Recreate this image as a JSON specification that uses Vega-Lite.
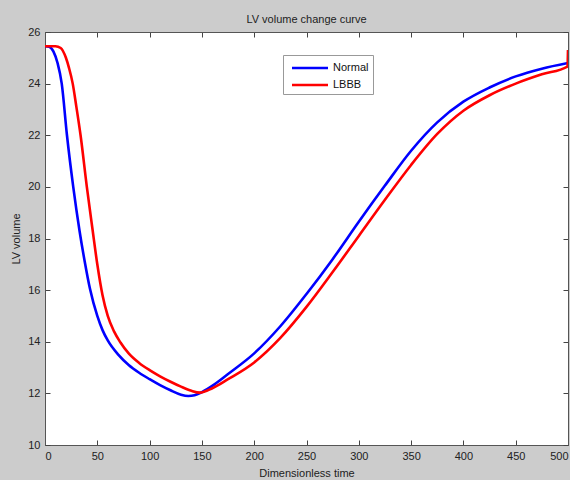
{
  "$schema": "https://vega.github.io/schema/vega-lite/v6.json",
  "width": 523,
  "height": 413,
  "autosize": {"type": "none"},
  "padding": {"left": 45, "top": 32, "right": 2, "bottom": 35},
  "background": "#cccccc",
  "title": {"text": "LV volume change curve", "fontSize": 11, "fontWeight": "normal", "font": "Liberation Sans", "color": "#222222", "offset": 1},
  "config": {
    "view": {"fill": "white", "stroke": "#555555", "strokeWidth": 1},
    "axis": {
      "labelFont": "Liberation Sans", "labelFontSize": 11, "labelColor": "#222222",
      "titleFont": "Liberation Sans", "titleFontSize": 11, "titleFontWeight": "normal", "titleColor": "#222222",
      "domainColor": "#555555", "tickColor": "#444444", "tickSize": -5, "grid": false
    }
  },
  "datasets": {
    "curves": [
      {"t": 0, "v": 25.45, "series": "Normal"},
      {"t": 4, "v": 25.43, "series": "Normal"},
      {"t": 8, "v": 25.25, "series": "Normal"},
      {"t": 12, "v": 24.8, "series": "Normal"},
      {"t": 16, "v": 24.0, "series": "Normal"},
      {"t": 21, "v": 22.0, "series": "Normal"},
      {"t": 27, "v": 20.0, "series": "Normal"},
      {"t": 33, "v": 18.3, "series": "Normal"},
      {"t": 38, "v": 17.1, "series": "Normal"},
      {"t": 43, "v": 16.05, "series": "Normal"},
      {"t": 50, "v": 15.0, "series": "Normal"},
      {"t": 55, "v": 14.45, "series": "Normal"},
      {"t": 60, "v": 14.05, "series": "Normal"},
      {"t": 70, "v": 13.5, "series": "Normal"},
      {"t": 80, "v": 13.1, "series": "Normal"},
      {"t": 90, "v": 12.8, "series": "Normal"},
      {"t": 100, "v": 12.55, "series": "Normal"},
      {"t": 110, "v": 12.32, "series": "Normal"},
      {"t": 120, "v": 12.12, "series": "Normal"},
      {"t": 130, "v": 11.95, "series": "Normal"},
      {"t": 137, "v": 11.9, "series": "Normal"},
      {"t": 143, "v": 11.93, "series": "Normal"},
      {"t": 150, "v": 12.05, "series": "Normal"},
      {"t": 162, "v": 12.35, "series": "Normal"},
      {"t": 175, "v": 12.75, "series": "Normal"},
      {"t": 200, "v": 13.55, "series": "Normal"},
      {"t": 225, "v": 14.6, "series": "Normal"},
      {"t": 250, "v": 15.85, "series": "Normal"},
      {"t": 275, "v": 17.2, "series": "Normal"},
      {"t": 300, "v": 18.65, "series": "Normal"},
      {"t": 325, "v": 20.05, "series": "Normal"},
      {"t": 350, "v": 21.4, "series": "Normal"},
      {"t": 375, "v": 22.5, "series": "Normal"},
      {"t": 400, "v": 23.3, "series": "Normal"},
      {"t": 425, "v": 23.85, "series": "Normal"},
      {"t": 450, "v": 24.28, "series": "Normal"},
      {"t": 475, "v": 24.58, "series": "Normal"},
      {"t": 500, "v": 24.8, "series": "Normal"},
      {"t": 0, "v": 25.45, "series": "LBBB"},
      {"t": 10, "v": 25.45, "series": "LBBB"},
      {"t": 15, "v": 25.38, "series": "LBBB"},
      {"t": 20, "v": 25.0, "series": "LBBB"},
      {"t": 23, "v": 24.6, "series": "LBBB"},
      {"t": 26.5, "v": 24.0, "series": "LBBB"},
      {"t": 30, "v": 23.1, "series": "LBBB"},
      {"t": 34, "v": 22.0, "series": "LBBB"},
      {"t": 40, "v": 20.0, "series": "LBBB"},
      {"t": 45.6, "v": 18.3, "series": "LBBB"},
      {"t": 50, "v": 17.0, "series": "LBBB"},
      {"t": 55, "v": 15.8, "series": "LBBB"},
      {"t": 60, "v": 15.0, "series": "LBBB"},
      {"t": 66, "v": 14.4, "series": "LBBB"},
      {"t": 72, "v": 13.98, "series": "LBBB"},
      {"t": 80, "v": 13.55, "series": "LBBB"},
      {"t": 90, "v": 13.18, "series": "LBBB"},
      {"t": 100, "v": 12.9, "series": "LBBB"},
      {"t": 110, "v": 12.66, "series": "LBBB"},
      {"t": 120, "v": 12.45, "series": "LBBB"},
      {"t": 130, "v": 12.26, "series": "LBBB"},
      {"t": 140, "v": 12.1, "series": "LBBB"},
      {"t": 148, "v": 12.03, "series": "LBBB"},
      {"t": 160, "v": 12.2, "series": "LBBB"},
      {"t": 175, "v": 12.55, "series": "LBBB"},
      {"t": 200, "v": 13.2, "series": "LBBB"},
      {"t": 225, "v": 14.15, "series": "LBBB"},
      {"t": 250, "v": 15.35, "series": "LBBB"},
      {"t": 275, "v": 16.7, "series": "LBBB"},
      {"t": 300, "v": 18.1, "series": "LBBB"},
      {"t": 325, "v": 19.5, "series": "LBBB"},
      {"t": 350, "v": 20.85, "series": "LBBB"},
      {"t": 375, "v": 22.05, "series": "LBBB"},
      {"t": 400, "v": 22.95, "series": "LBBB"},
      {"t": 425, "v": 23.55, "series": "LBBB"},
      {"t": 450, "v": 24.0, "series": "LBBB"},
      {"t": 475, "v": 24.36, "series": "LBBB"},
      {"t": 499.5, "v": 24.66, "series": "LBBB"},
      {"t": 500, "v": 25.3, "series": "LBBB"}
    ]
  },
  "data": {"name": "curves"},
  "layer": [
    {
      "mark": {"type": "line", "strokeWidth": 2.6, "interpolate": "monotone", "clip": true},
      "encoding": {
        "x": {"field": "t", "type": "quantitative", "scale": {"domain": [0, 500], "nice": false},
              "axis": {"title": "Dimensionless time", "values": [0, 50, 100, 150, 200, 250, 300, 350, 400, 450, 500], "labelPadding": 10, "titlePadding": 6, "orient": "bottom"}},
        "y": {"field": "v", "type": "quantitative", "scale": {"domain": [10, 26], "nice": false, "zero": false},
              "axis": {"title": "LV volume", "values": [10, 12, 14, 16, 18, 20, 22, 24, 26], "labelPadding": 10, "titlePadding": 6, "orient": "left"}},
        "color": {"field": "series", "type": "nominal",
                  "scale": {"domain": ["Normal", "LBBB"], "range": ["#0000ff", "#ff0000"]},
                  "legend": {"title": null, "orient": "none", "legendX": 238, "legendY": 23,
                             "symbolType": "M-2.4,0H2.4", "symbolSize": 225, "symbolStrokeWidth": 2.5,
                             "symbolOffset": 14, "labelOffset": 14,
                             "labelFont": "Liberation Sans", "labelFontSize": 11, "labelColor": "#111111",
                             "strokeColor": "#999999", "fillColor": "white", "padding": 4, "rowPadding": 3}}
      }
    },
    {
      "mark": {"type": "line", "opacity": 0},
      "encoding": {
        "x": {"field": "t", "type": "quantitative", "scale": {"domain": [0, 500], "nice": false},
              "axis": {"orient": "top", "labels": false, "title": null, "values": [0, 50, 100, 150, 200, 250, 300, 350, 400, 450, 500]}},
        "y": {"field": "v", "type": "quantitative", "scale": {"domain": [10, 26], "nice": false, "zero": false},
              "axis": {"orient": "right", "labels": false, "title": null, "values": [10, 12, 14, 16, 18, 20, 22, 24, 26]}},
        "detail": {"field": "series"}
      }
    }
  ],
  "resolve": {"axis": {"x": "independent", "y": "independent"}}
}
